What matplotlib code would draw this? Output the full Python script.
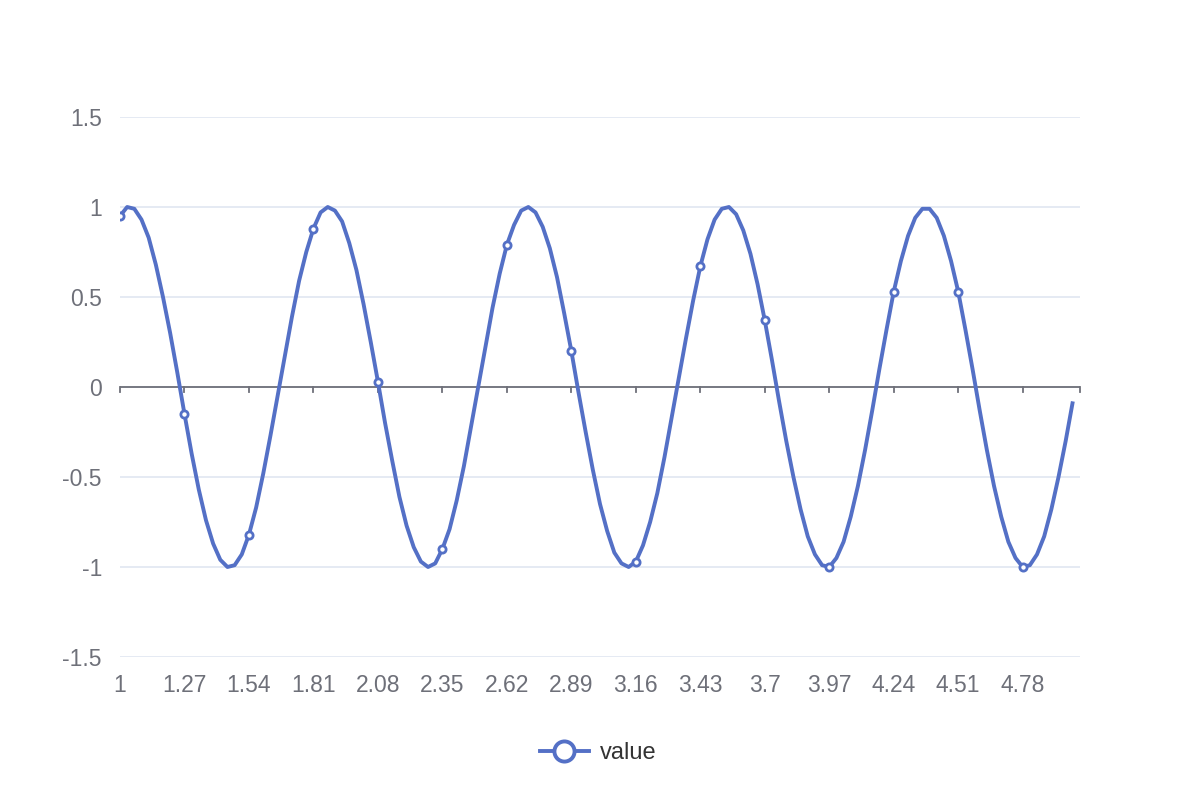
import numpy as np
import matplotlib
matplotlib.use("Agg")
import matplotlib.pyplot as plt
from matplotlib.lines import Line2D

plt.rcParams['font.family'] = ['Liberation Sans', 'DejaVu Sans']

# category axis: 1, 1.03, 1.06 ... 5.02 (135 slots)
categories = [round(1 + 0.03 * k, 2) for k in range(135)]
tick_labels = ['1', '1.27', '1.54', '1.81', '2.08', '2.35', '2.62', '2.89',
               '3.16', '3.43', '3.7', '3.97', '4.24', '4.51', '4.78']

# values (134 points, the last slot is empty)
values = [0.95, 1.00, 0.99, 0.93, 0.83, 0.68, 0.50, 0.30, 0.08, -0.15,
          -0.37, -0.57, -0.74, -0.87, -0.96, -1.00, -0.99, -0.93, -0.82, -0.67,
          -0.48, -0.27, -0.05, 0.17, 0.39, 0.59, 0.75, 0.88, 0.97, 1.00,
          0.98, 0.92, 0.80, 0.65, 0.46, 0.25, 0.03, -0.20, -0.41, -0.61,
          -0.77, -0.89, -0.97, -1.00, -0.98, -0.90, -0.79, -0.63, -0.44, -0.22,
          0.00, 0.22, 0.44, 0.63, 0.79, 0.90, 0.98, 1.00, 0.97, 0.89,
          0.77, 0.61, 0.41, 0.20, -0.03, -0.25, -0.46, -0.65, -0.80, -0.92,
          -0.98, -1.00, -0.97, -0.88, -0.75, -0.59, -0.39, -0.17, 0.05, 0.27,
          0.48, 0.67, 0.82, 0.93, 0.99, 1.00, 0.96, 0.87, 0.74, 0.57,
          0.37, 0.15, -0.08, -0.30, -0.50, -0.68, -0.83, -0.93, -0.99, -1.00,
          -0.95, -0.86, -0.72, -0.55, -0.35, -0.13, 0.10, 0.32, 0.53, 0.70,
          0.84, 0.94, 0.99, 0.99, 0.94, 0.84, 0.70, 0.53, 0.32, 0.10,
          -0.13, -0.35, -0.55, -0.72, -0.86, -0.95, -1.00, -0.99, -0.93, -0.83,
          -0.68, -0.50, -0.30, -0.08]

blue = '#5470c6'
axis_col = '#6E7079'
grid_col = '#E0E6F1'

fig = plt.figure(figsize=(11.96, 7.92), dpi=100)
ax = fig.add_axes([120 / 1196, 1 - 657 / 792, 960 / 1196, 540 / 792])

idx = np.arange(len(values))
step = 9
ax.plot(idx, values, color=blue, lw=2.8, solid_capstyle='butt',
        solid_joinstyle='round', zorder=3)
ax.plot(idx[::step], np.array(values)[::step], ls='none', marker='o', ms=5.2,
        mfc='white', mec=blue, mew=2.0, zorder=4)

ax.set_xlim(0, len(categories) - 1)
ax.set_ylim(-1.5, 1.5)
ax.set_yticks([-1.5, -1, -0.5, 0, 0.5, 1, 1.5])
ax.set_yticklabels(['-1.5', '-1', '-0.5', '0', '0.5', '1', '1.5'])
ax.set_xticks(np.arange(0, len(tick_labels) * step, step))
ax.set_xticklabels(tick_labels)

for s in ax.spines.values():
    s.set_visible(False)
ax.grid(axis='y', color=grid_col, lw=1.2)
ax.set_axisbelow(True)
ax.tick_params(axis='both', length=0, labelsize=16.5, colors=axis_col)
ax.tick_params(axis='y', pad=13)
ax.tick_params(axis='x', pad=12)

# zero axis line with its ticks
ax.axhline(0, color=axis_col, lw=1.3, zorder=2)
zero_ticks = list(range(0, len(tick_labels) * step, step)) + [len(categories) - 1]
for t in zero_ticks:
    ax.plot([t, t], [0, -0.028], color=axis_col, lw=1.3, zorder=2,
            clip_on=False)

handle = Line2D([0], [0], color=blue, lw=2.8, marker='o', ms=14.5,
                mfc='white', mec=blue, mew=2.8)
fig.legend([handle], ['value'], loc='center', bbox_to_anchor=(0.5, 1 - 753 / 792),
           frameon=False, fontsize=17, handlelength=2.1, handletextpad=0.45,
           labelcolor='#333333')

fig.savefig('out.png', dpi=100)
